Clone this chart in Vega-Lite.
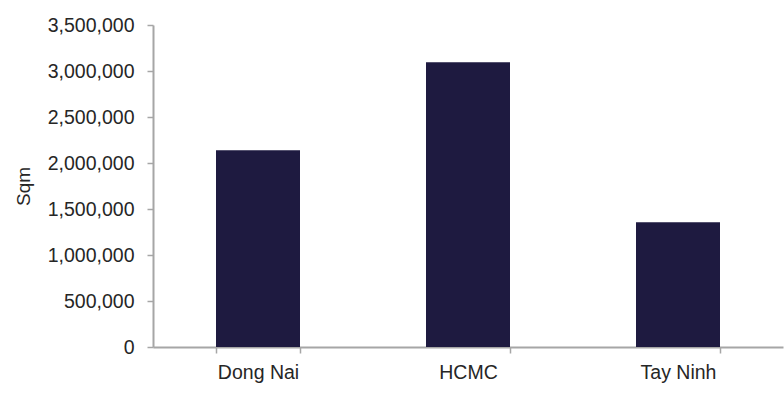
{
  "$schema": "https://vega.github.io/schema/vega-lite/v6.json",
  "width": 630,
  "height": 322,
  "autosize": "none",
  "padding": {"left": 153, "top": 25, "right": 1, "bottom": 64},
  "config": {
    "background": "white",
    "view": {"stroke": "transparent"},
    "font": "Liberation Sans",
    "axis": {
      "domainColor": "#a6a6a6",
      "domainWidth": 2,
      "tickColor": "#a6a6a6",
      "tickWidth": 1.5,
      "tickSize": 6,
      "grid": false,
      "labelFont": "Liberation Sans",
      "labelFontSize": 19.5,
      "labelColor": "#262626",
      "titleFont": "Liberation Sans",
      "titleFontSize": 19,
      "titleFontWeight": "normal",
      "titleColor": "#262626"
    }
  },
  "data": {
    "values": [
      {"region": "Dong Nai", "sqm": 2138000},
      {"region": "HCMC", "sqm": 3094000},
      {"region": "Tay Ninh", "sqm": 1355000}
    ]
  },
  "mark": {"type": "bar", "color": "#1e1a40"},
  "encoding": {
    "x": {
      "field": "region",
      "type": "nominal",
      "sort": null,
      "scale": {"paddingInner": 0.6, "paddingOuter": 0.3},
      "axis": {"title": null, "labelAngle": 0, "labelPadding": 10, "tickBand": "extent"}
    },
    "y": {
      "field": "sqm",
      "type": "quantitative",
      "scale": {"domain": [0, 3500000], "nice": false},
      "axis": {"title": "Sqm", "format": ",d", "values": [0, 500000, 1000000, 1500000, 2000000, 2500000, 3000000, 3500000], "labelPadding": 13, "titlePadding": 14}
    }
  }
}
